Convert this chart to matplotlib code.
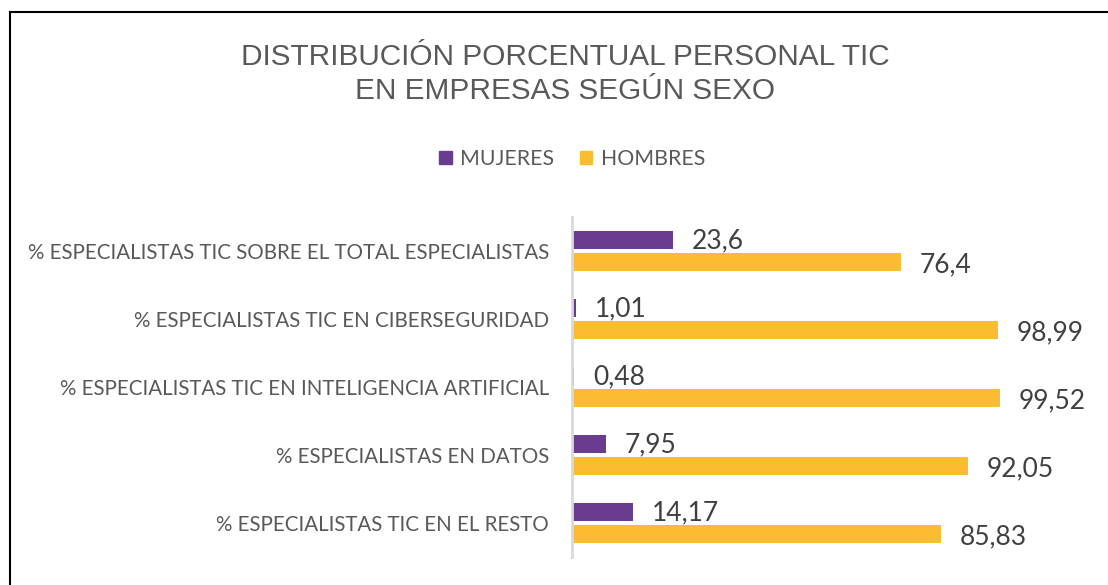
import matplotlib
matplotlib.use("Agg")
import matplotlib.pyplot as plt
from matplotlib.lines import Line2D
from matplotlib.patches import Patch
import numpy as np

# ---------------------------------------------------------------------
# Data
# ---------------------------------------------------------------------
categories = [
    "% ESPECIALISTAS TIC SOBRE EL TOTAL ESPECIALISTAS",
    "% ESPECIALISTAS TIC EN CIBERSEGURIDAD",
    "% ESPECIALISTAS TIC EN INTELIGENCIA ARTIFICIAL",
    "% ESPECIALISTAS EN DATOS",
    "% ESPECIALISTAS TIC EN EL RESTO",
]
mujeres = [23.6, 1.01, 0.48, 7.95, 14.17]
hombres = [76.4, 98.99, 99.52, 92.05, 85.83]
series_names = ["MUJERES", "HOMBRES"]

PURPLE = "#693C8F"
YELLOW = "#FABC30"
TEXT_GRAY = "#595959"
VALUE_GRAY = "#404040"

W, H = 1108, 585
fig = plt.figure(figsize=(W / 100, H / 100), dpi=100)

# axes placed in pixel terms
left, right, top, bottom = 572, 1088, 217, 557
ax = fig.add_axes([left / W, 1 - bottom / H, (right - left) / W, (bottom - top) / H])

y = np.arange(len(categories))
h = 0.265
off = 0.165
ax.barh(y - off, mujeres, height=h, color=PURPLE)
ax.barh(y + off, hombres, height=h, color=YELLOW)

ax.set_xlim(0, 120)
ax.set_ylim(len(categories) - 0.5, -0.5)

def fmt(v):
    return f"{v:g}".replace(".", ",")

for yi, v in zip(y, mujeres):
    ax.annotate(fmt(v), (v, yi - off), xytext=(13.5, -0.5), textcoords="offset points",
                va="center", ha="left", fontsize=19, color=VALUE_GRAY, family="Lato")
for yi, v in zip(y, hombres):
    ax.annotate(fmt(v), (v, yi + off), xytext=(13.5, -2), textcoords="offset points",
                va="center", ha="left", fontsize=19, color=VALUE_GRAY, family="Lato")

ax.set_yticks(y)
ax.set_yticklabels(categories, fontsize=14.8, color=TEXT_GRAY, family="Lato")
ax.tick_params(axis="y", length=0, pad=16.5)
ax.set_xticks([])
for s in ["top", "right", "bottom"]:
    ax.spines[s].set_visible(False)
ax.spines["left"].set_color("#D9D9D9")
ax.spines["left"].set_linewidth(2)

# title
fig.text(565 / W, 1 - 74 / H, "DISTRIBUCIÓN PORCENTUAL PERSONAL TIC\nEN EMPRESAS SEGÚN SEXO",
         ha="center", va="center", fontsize=21.4, color=TEXT_GRAY,
         family="Liberation Sans", linespacing=1.3)

# legend
handles = [Patch(color=PURPLE, label=series_names[0]), Patch(color=YELLOW, label=series_names[1])]
fig.legend(handles=handles, loc="center", bbox_to_anchor=(572 / W, 1 - 159 / H),
           ncol=2, frameon=False, handlelength=0.6, handleheight=0.6,
           handletextpad=0.4, columnspacing=1.2,
           prop={"family": "Lato", "size": 15.3}, labelcolor=TEXT_GRAY)

# outer frame (left and top edges only visible)
fig.add_artist(Line2D([10 / W, 10 / W], [0, 1 - 12 / H], color="black", lw=1.5))
fig.add_artist(Line2D([10 / W, 1], [1 - 12 / H, 1 - 12 / H], color="black", lw=1.5))

fig.savefig("out.png", dpi=100)
